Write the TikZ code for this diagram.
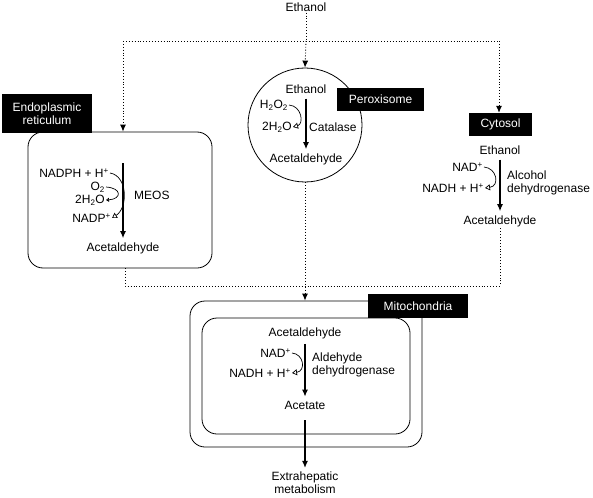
\documentclass[tikz,border=0pt]{standalone}
\usepackage{fontspec}
\setmainfont{Liberation Sans}
\usetikzlibrary{arrows.meta}
\begin{document}
\begin{tikzpicture}[x=1pt,y=-1pt,>={Latex[length=7pt,width=6pt]},font=\fontsize{12}{13}\selectfont]
	\tikzstyle{every node}=[inner sep=1pt]
	\tikzstyle{tag}=[fill=black,text=white,align=center,inner sep=2pt]
	\tikzstyle{wall}=[draw,line width=0.8pt,rounded corners=15pt]
	\tikzstyle{flow}=[dotted,line width=0.9pt]
	\tikzstyle{main}=[->,line width=1.2pt,shorten <=4pt,shorten >=3pt]
	\tikzstyle{side}=[line width=0.7pt,-{Triangle[open,length=5pt,width=6pt]}]
	
	\useasboundingbox (0,0) rectangle (593,497);
	
	% compartments
	\node[wall,minimum width=184,minimum height=136] (ER) at (120,200) {};
	\node[draw,circle,line width=0.8pt,minimum size=114] (PX) at (305,125) {};
	\node[wall,minimum width=232,minimum height=146] (MO) at (306,374) {};
	\node[wall,minimum width=208,minimum height=116] (MI) at (306,376) {};
	
	\node[tag,minimum width=90,minimum height=39] (tER) at (47,113.5) {Endoplasmic\\reticulum};
	\node[tag,minimum width=87,minimum height=23] (tPX) at (380.5,99.5) {Peroxisome};
	\node[tag,minimum width=63,minimum height=23] (tCY) at (500.5,124.5) {Cytosol};
	\node[tag,minimum width=100,minimum height=24] (tMI) at (418,306) {Mitochondria};
	
	% ethanol in, dotted tree
	\node (E0) at (306,7) {Ethanol};
	\coordinate (T) at (306,41);
	\coordinate (TL) at (123,41);
	\coordinate (TR) at (499,41);
	\draw[flow] (E0) -- (T);
	\draw[flow] (TL) -- (TR);
	\draw[flow,->] (TL) -- (TL |- ER.north);
	\draw[flow,->] (T) -- (PX.north);
	\draw[flow,->] (TR) -- (TR |- tCY.north);
	
	% endoplasmic reticulum
	\coordinate (R0) at (123,163);
	\node (R2) at (123,248) {Acetaldehyde};
	\node[anchor=east] (R3) at (110,173) {NADPH + H\textsuperscript{+}};
	\node[anchor=east] (R4) at (106,187) {O\textsubscript{2}};
	\node[anchor=east] (R5) at (106,200) {2H\textsubscript{2}O};
	\node[anchor=east] (R6) at (112,218) {NADP\textsuperscript{+}};
	\node[anchor=west] (R7) at (133,195) {MEOS};
	\draw[main,shorten <=0pt] (R0) -- (R2);
	\draw[side] (R3.east) .. controls (128,176) and (128,208) .. (R6.east);
	\draw[side,-{Triangle[open,length=3pt,width=4pt]}] (R4.east) .. controls (122,188) and (122,199) .. (R5.east);
	
	% peroxisome
	\node (P1) at (306,89) {Ethanol};
	\node (P2) at (306,159) {Acetaldehyde};
	\node[anchor=east] (P3) at (289,105) {H\textsubscript{2}O\textsubscript{2}};
	\node[anchor=east] (P4) at (293,127) {2H\textsubscript{2}O};
	\node[anchor=west] (P5) at (308,127) {Catalase};
	\draw[main] (P1) -- (P2);
	\draw[side] (P3.east) .. controls (302,106) and (304,124) .. (P4.east);
	
	% cytosol
	\node (C1) at (500,150) {Ethanol};
	\node (C2) at (500,221) {Acetaldehyde};
	\node[anchor=east] (C3) at (484,167) {NAD\textsuperscript{+}};
	\node[anchor=east] (C4) at (485,188) {NADH + H\textsuperscript{+}};
	\node[anchor=west,align=left] (C5) at (506,183) {Alcohol\\dehydrogenase};
	\draw[main] (C1) -- (C2);
	\draw[side] (C3.east) .. controls (497,168) and (500,186) .. (C4.east);
	
	% dotted collection to mitochondria
	\coordinate (BL) at (125,286);
	\coordinate (BR) at (500,286);
	\draw[flow] (BL |- ER.south) -- (BL) -- (BR) -- (C2);
	\draw[flow,->] (PX.south) -- (PX.south |- MO.north);
	
	% mitochondria
	\node (M1) at (305,333) {Acetaldehyde};
	\node (M2) at (305,405) {Acetate};
	\node[anchor=east] (M3) at (292,353) {NAD\textsuperscript{+}};
	\node[anchor=east] (M4) at (292,373) {NADH + H\textsuperscript{+}};
	\node[anchor=west,align=left] (M5) at (311,365) {Aldehyde\\dehydrogenase};
	\draw[main] (M1) -- (M2);
	\draw[side] (M3.east) .. controls (304,354) and (306,371) .. (M4.east);
	
	\node[align=center] (X) at (305,483) {Extrahepatic\\metabolism};
	\draw[main,shorten <=10pt] (M2) -- (X);
\end{tikzpicture}
\end{document}
